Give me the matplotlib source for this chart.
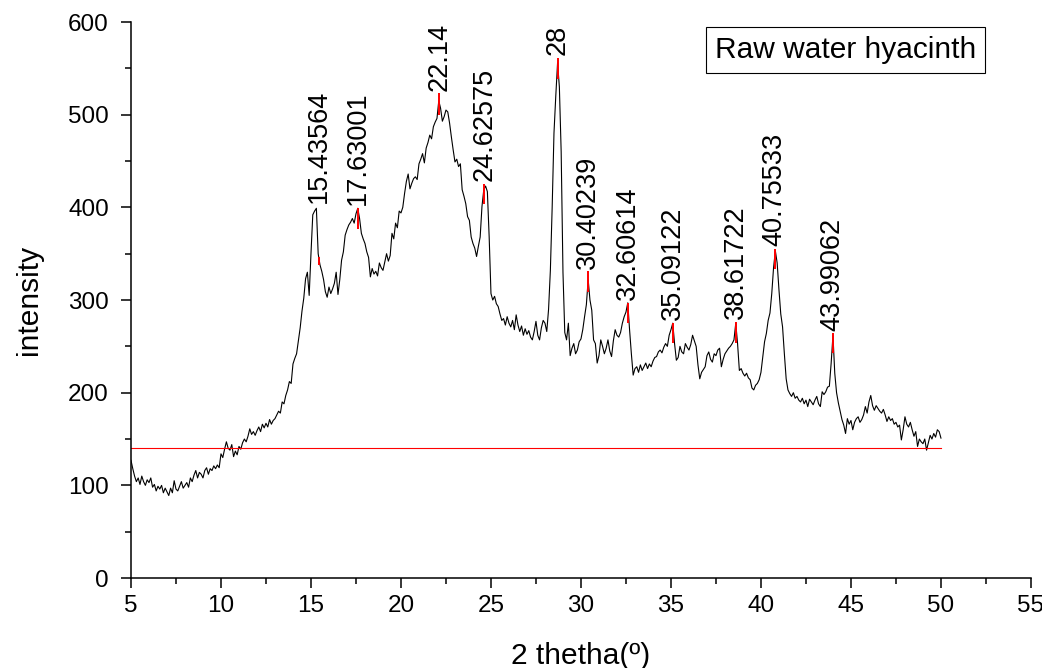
import numpy as np
import matplotlib
matplotlib.use("Agg")
import matplotlib.pyplot as plt
from matplotlib.ticker import MultipleLocator

plt.rcParams['font.family'] = ['Liberation Sans', 'DejaVu Sans']

# 2-theta grid start/step (degrees) and intensity rows (one row per degree, 0.1 deg step)
theta_start = 5.0
theta_step = 0.1
intensity = (
    [127, 118, 110, 104, 108, 101, 110, 104, 100, 106] +   # 5
    [103, 108, 98, 101, 94, 99, 96, 100, 92, 97] +         # 6
    [93, 89, 97, 92, 105, 96, 94, 99, 104, 97] +           # 7
    [100, 103, 98, 108, 104, 111, 116, 108, 114, 112] +    # 8
    [108, 116, 119, 112, 118, 116, 121, 118, 122, 119] +   # 9
    [134, 130, 139, 147, 140, 138, 144, 131, 137, 133] +   # 10
    [142, 139, 146, 150, 147, 153, 161, 155, 158, 154] +   # 11
    [159, 163, 158, 166, 162, 167, 163, 171, 166, 170] +   # 12
    [172, 176, 180, 178, 190, 188, 197, 203, 212, 210] +   # 13
    [231, 237, 242, 256, 270, 288, 302, 323, 330, 305] +   # 14
    [350, 392, 396, 399, 350, 338, 331, 322, 309, 303] +   # 15
    [314, 307, 312, 318, 330, 306, 322, 343, 352, 370] +   # 16
    [376, 381, 384, 388, 383, 393, 399, 388, 372, 366] +   # 17
    [361, 352, 346, 325, 334, 328, 331, 326, 340, 335] +   # 18
    [332, 341, 350, 342, 348, 372, 366, 383, 378, 396] +   # 19
    [394, 400, 415, 428, 436, 420, 426, 431, 433, 430] +   # 20
    [447, 452, 458, 448, 464, 470, 478, 474, 487, 492] +   # 21
    [496, 515, 507, 493, 498, 505, 503, 491, 476, 462] +   # 22
    [449, 452, 444, 447, 419, 412, 404, 390, 386, 368] +   # 23
    [361, 356, 347, 358, 368, 401, 419, 423, 417, 368] +   # 24
    [307, 300, 304, 296, 293, 285, 278, 280, 273, 282] +   # 25
    [275, 271, 278, 268, 284, 273, 266, 272, 262, 269] +   # 26
    [263, 267, 260, 257, 266, 277, 262, 257, 270, 278] +   # 27
    [275, 266, 290, 332, 400, 480, 520, 556, 530, 460] +   # 28
    [330, 265, 257, 275, 240, 248, 253, 242, 246, 255] +   # 29
    [258, 268, 282, 295, 322, 300, 289, 257, 253, 232] +   # 30
    [240, 257, 250, 242, 248, 257, 245, 239, 256, 268] +   # 31
    [262, 260, 265, 275, 282, 287, 297, 268, 242, 219] +   # 32
    [226, 228, 222, 230, 224, 228, 232, 226, 231, 228] +   # 33
    [234, 238, 239, 244, 246, 243, 249, 253, 250, 262] +   # 34
    [268, 275, 253, 235, 238, 250, 244, 242, 253, 249] +   # 35
    [246, 252, 262, 256, 250, 230, 215, 222, 225, 228] +   # 36
    [240, 244, 236, 233, 242, 240, 246, 248, 228, 236] +   # 37
    [242, 245, 248, 250, 253, 257, 275, 253, 224, 226] +   # 38
    [221, 218, 221, 216, 214, 205, 203, 208, 210, 214] +   # 39
    [222, 239, 255, 264, 278, 286, 307, 335, 353, 340] +   # 40
    [311, 285, 271, 242, 215, 203, 199, 196, 200, 194] +   # 41
    [196, 192, 190, 194, 188, 192, 185, 193, 190, 187] +   # 42
    [192, 196, 188, 185, 201, 198, 201, 206, 207, 232] +   # 43
    [262, 221, 200, 189, 180, 171, 165, 156, 172, 166] +   # 44
    [170, 160, 168, 172, 174, 168, 171, 176, 185, 178] +   # 45
    [190, 197, 186, 181, 186, 183, 180, 178, 182, 176] +   # 46
    [169, 174, 170, 172, 166, 168, 163, 165, 149, 160] +   # 47
    [174, 166, 163, 168, 160, 153, 158, 142, 150, 147] +   # 48
    [145, 150, 138, 146, 154, 150, 156, 152, 160, 158] +   # 49
    [151]                                                  # 50
)
two_theta = theta_start + theta_step * np.arange(len(intensity))

# baseline
baseline_value = 140
baseline_range = [5, 50]

# peak annotations
peak_pos = [15.44, 17.63, 22.14, 24.63, 28.72, 30.40, 32.61, 35.09, 38.62, 40.76, 43.99]
peak_labels = ["15.43564", "17.63001", "22.14", "24.62575", "28", "30.40239",
               "32.60614", "35.09122", "38.61722", "40.75533", "43.99062"]
marker_hi = [346, 399, 523, 425, 561, 331, 297, 275, 276, 355, 264]
marker_lo = [338, 377, 500, 404, 538, 309, 275, 254, 254, 333, 243]
label_y = [405, 403, 526, 428, 564, 334, 300, 278, 279, 358, 267]

fig = plt.figure(figsize=(10.42, 6.68), dpi=100)
ax = fig.add_axes([0.1257, 0.1347, 0.8637, 0.8323])

ax.plot(two_theta, intensity, color='black', lw=0.8)
ax.plot(baseline_range, [baseline_value, baseline_value], color='red', lw=0.8)
ax.vlines(peak_pos, marker_lo, marker_hi, color='red', lw=1.4)
for x, y, t in zip(peak_pos, label_y, peak_labels):
    ax.text(x, y, t, rotation=90, ha='center', va='bottom', fontsize=19.5,
            clip_on=False)

ax.set_xlim(5, 55)
ax.set_ylim(0, 600)
ax.xaxis.set_major_locator(MultipleLocator(5))
ax.xaxis.set_minor_locator(MultipleLocator(2.5))
ax.yaxis.set_major_locator(MultipleLocator(100))
ax.yaxis.set_minor_locator(MultipleLocator(50))
ax.tick_params(which='major', direction='out', length=7, width=1.1, labelsize=17.5)
ax.tick_params(axis='y', which='major', pad=9)
ax.tick_params(axis='x', which='major', pad=5)
ax.tick_params(which='minor', direction='out', length=4, width=1.1)
for s in ['top', 'right']:
    ax.spines[s].set_visible(False)
for s in ['left', 'bottom']:
    ax.spines[s].set_linewidth(1.1)

ax.set_xlabel("2 thetha(\u00ba)", fontsize=21.5, labelpad=18)
ax.set_ylabel("intensity", fontsize=21.5, labelpad=18)

ax.text(0.794, 0.9496, "Raw water hyacinth", transform=ax.transAxes, ha='center', va='center',
        fontsize=21.5, bbox=dict(boxstyle='square,pad=0.3', fc='white', ec='black', lw=0.8))

fig.savefig("out.png", dpi=100)
